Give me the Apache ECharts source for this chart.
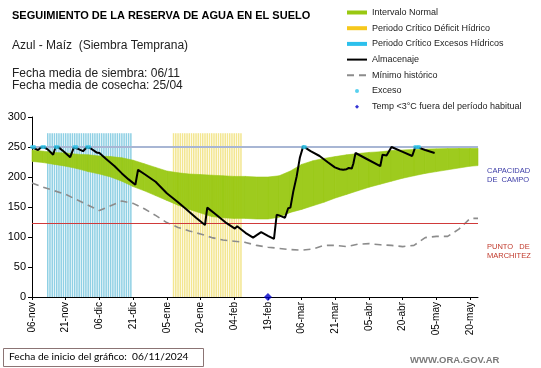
<!DOCTYPE html>
<html>
<head>
<meta charset="utf-8">
<script src="https://cdn.jsdelivr.net/npm/echarts@6/dist/echarts.min.js"></script>
<style>
html,body{margin:0;padding:0;background:#fff;}
#chart{width:541px;height:368px;}
</style>
</head>
<body>
<div id="chart"></div>
<script>
// ---- Data (x = days since 06-nov-2024) ----
var tickLabels = ['06-nov','21-nov','06-dic','21-dic','05-ene','20-ene','04-feb','19-feb','06-mar','21-mar','05-abr','20-abr','05-may','20-may'];

var bandDays = [0,5,10,15,20,25,30,35,40,45,50,55,60,65,70,75,80,85,90,95,100,105,110,115,120,125,130,135,140,145,150,155,160,165,170,175,180,185,190,195,198.5];
var bandHigh = [245,243,241,240,238,237,235,234,232,228,222,216,210,207,205,204,203,202,201,201,200,200,202,210,221,227,231,234,237,239,241,242,244,245,246,246.5,247,247.5,248,248,248];
var bandLow  = [226,224,221,218,214,209,205,200,193,184,177,169,161,153,146,140,134,132,131,131,130,130,133,141,146,152,158,165,171,177,183,188,193,198,202,206,209,212,215,218,219];

var minDays = [0,5,10,15,20,25,30,35,40,45,50,55,60,65,70,75,80,85,90,95,100,105,110,115,120,125,130,135,140,145,150,155,160,165,170,175,180,185,190,195,198.5];
var minVals = [190,183,177,171,162,153,144,152,160,156,147,136,124,116,110,105,99,95,93,91,86,83,81,79,78,80,86,86,84,88,89,87,86,84,86,99,101,101,113,131,131];

var storageDays = [0,1.5,2.7,4,5,7,9.4,10.5,12,14,17,18.6,20.5,22.7,24.5,26,28.7,30,33,36.8,40,43,46,47.2,50,55,60,65,68.8,73,77,78,82,86.6,90.3,91.3,95,98.4,100,102,105,107.7,108.9,110,112.6,114,115,116.3,117.8,119.2,120.7,124,128,131.5,134.8,137,138.5,140,141,142.3,143,144,149,155,156,157.8,160,165,169.2,170.5,172,175,179.2];
var storageVals = [249,247,245,249,250,246,237,250,249,243,233,249,247,243,250,248,241,240,230,218,206,196,187,212,205,192,173,158,146,132,120,149,137,123,114,118,107,99,103,108,102,97,137,136,132,148,149,176,201,232,251,243,235,225,216,213,212,213,215,214,222,240,230,218,237,236,250,242,235,249,249,245,240];

var excessDays = [0,1,4.5,5.5,10.5,11.5,18.8,19.8,24.5,25.5,120.7,121.5,170.5,171.5,172.3];
var excessVals = [250,250,250,250,250,250,250,250,250,250,250,250,250,250,250];

var excessPeriodDays = [7,8,9,10,11,12,13,14,15,16,17,18,19,20,21,22,23,24,25,26,27,28,29,30,31,32,33,34,35,36,37,38,39,40,41,42,43,44];
var deficitPeriodDays = [63,64,65,66,67,68,69,70,71,72,73,74,75,76,77,78,79,80,81,82,83,84,85,86,87,88,89,90,91,92,93];
var periodTop = 273;

var coldDays = [105];
var coldVals = [0];

var fieldCapacity = 250;
var wiltingPoint = 123;

function pairs(xs, ys){ return xs.map(function(x,i){ return [x, ys[i]]; }); }
function periodBars(days){ return days.map(function(d){ return [d, periodTop]; }); }

var FONT = '"Liberation Sans", Arial, sans-serif';
var GREEN = '#99c812';

function renderBand(params, api){
  var i = params.dataIndex;
  if (i >= bandDays.length - 1) return null;
  var p = [
    api.coord([bandDays[i], bandLow[i]]),
    api.coord([bandDays[i+1], bandLow[i+1]]),
    api.coord([bandDays[i+1], bandHigh[i+1]]),
    api.coord([bandDays[i], bandHigh[i]])
  ];
  return {type: 'polygon', shape: {points: p}, style: {fill: GREEN, stroke: GREEN, lineWidth: 0.6, opacity: 0.95}};
}

var chart = echarts.init(document.getElementById('chart'), null, {renderer:'canvas'});
chart.setOption({
  animation: false,
  backgroundColor: '#fff',
  textStyle: {fontFamily: FONT},
  grid: {left: 32, right: 63, top: 117, bottom: 71, containLabel: false, outerBoundsMode: 'none'},
  legend: {
    orient: 'vertical', left: 341, top: 2.5,
    itemWidth: 20, itemHeight: 4, itemGap: 5.7,
    textStyle: {fontSize: 9, color: '#222', fontFamily: FONT, lineHeight: 10},
    data: [
      {name: 'Intervalo Normal', icon: 'rect', itemStyle: {color: GREEN}},
      {name: 'Periodo Crítico Déficit Hídrico', icon: 'rect', itemStyle: {color: '#f6c81c'}},
      {name: 'Periodo Crítico Excesos Hídricos', icon: 'rect', itemStyle: {color: '#2cc0ec'}},
      {name: 'Almacenaje', itemStyle: {opacity: 0}},
      {name: 'Mínimo histórico', itemStyle: {opacity: 0}},
      {name: 'Exceso', icon: 'circle'},
      {name: 'Temp <3°C fuera del período habitual', icon: 'path://M0,-1L1,0L0,1L-1,0Z'}
    ]
  },
  xAxis: {
    type: 'value', min: 0, max: 198.5, interval: 15,
    axisLine: {lineStyle: {color: '#000', width: 1}},
    axisTick: {length: 3, lineStyle: {color: '#000'}},
    splitLine: {show: false},
    axisLabel: {
      rotate: 90, fontSize: 10, color: '#000', margin: 5, showMaxLabel: false,
      formatter: function(v){ var i = Math.round(v/15); return (Math.abs(v - i*15) < 0.01 && tickLabels[i]) ? tickLabels[i] : ''; }
    }
  },
  yAxis: {
    type: 'value', min: 0, max: 300, interval: 50,
    name: 'Milímetros', nameLocation: 'middle', nameRotate: 90, nameGap: 24,
    nameTextStyle: {fontSize: 7, color: '#000'},
    axisLine: {show: true, lineStyle: {color: '#000', width: 1}},
    axisTick: {show: true, length: 4, lineStyle: {color: '#000'}},
    splitLine: {show: false},
    axisLabel: {fontSize: 11, color: '#000', margin: 6}
  },
  series: [
    {
      name: 'Periodo Crítico Excesos Hídricos', type: 'bar', barWidth: 1.5, z: 1,
      itemStyle: {color: '#8fd0e4'}, data: periodBars(excessPeriodDays), barGap: '-100%'
    },
    {
      name: 'Periodo Crítico Déficit Hídrico', type: 'bar', barWidth: 1.5, z: 1,
      itemStyle: {color: '#f3e690'}, data: periodBars(deficitPeriodDays), barGap: '-100%'
    },
    {
      name: 'Intervalo Normal', type: 'custom', z: 2, renderItem: renderBand,
      itemStyle: {color: GREEN},
      encode: {x: 0, y: [1, 2]},
      data: bandDays.map(function(d, i){ return [d, bandLow[i], bandHigh[i]]; })
    },
    {
      name: 'refLines', type: 'line', data: [], z: 3, silent: true,
      markLine: {
        symbol: 'none', silent: true, label: {show: false}, emphasis: {disabled: true},
        data: [
          {yAxis: fieldCapacity, lineStyle: {color: '#a8b6d4', width: 2, type: 'solid', opacity: 1}},
          {yAxis: wiltingPoint, lineStyle: {color: '#d03a3a', width: 1.2, type: 'solid', opacity: 1}}
        ]
      }
    },
    {
      name: 'Mínimo histórico', type: 'line', symbol: 'none', z: 4,
      lineStyle: {color: '#8c8c8c', width: 1.6, type: [7,5]}, itemStyle: {color: '#8c8c8c'},
      data: pairs(minDays, minVals)
    },
    {
      name: 'Almacenaje', type: 'line', symbol: 'none', z: 5,
      lineStyle: {color: '#000', width: 2}, itemStyle: {color: '#000'},
      data: pairs(storageDays, storageVals)
    },
    {
      name: 'Exceso', type: 'scatter', symbol: 'circle', symbolSize: 4, z: 6,
      itemStyle: {color: '#2ec4ea'}, data: pairs(excessDays, excessVals)
    },
    {
      name: 'Temp <3°C fuera del período habitual', type: 'scatter', symbol: 'diamond', symbolSize: 8, z: 7, clip: false,
      itemStyle: {color: '#0000c8'}, data: pairs(coldDays, coldVals)
    }
  ],
  graphic: [
    {type: 'text', left: 12, top: 10, style: {text: 'SEGUIMIENTO DE LA RESERVA DE AGUA EN EL SUELO', font: 'bold 11px ' + FONT, fill: '#000'}},
    {type: 'text', left: 12, top: 40, style: {text: 'Azul - Maíz  (Siembra Temprana)', font: '12px ' + FONT, fill: '#222'}},
    {type: 'text', left: 12, top: 68, style: {text: 'Fecha media de siembra: 06/11', font: '12px ' + FONT, fill: '#222'}},
    {type: 'text', left: 12, top: 80, style: {text: 'Fecha media de cosecha: 25/04', font: '12px ' + FONT, fill: '#222'}},
    {type: 'text', left: 487, top: 166, style: {text: 'CAPACIDAD\nDE  CAMPO', font: '7.5px ' + FONT, fill: '#3b3ba6', lineHeight: 9}},
    {type: 'text', left: 487, top: 242, style: {text: 'PUNTO   DE\nMARCHITEZ', font: '7.5px ' + FONT, fill: '#c0392b', lineHeight: 9}},
    {type: 'rect', shape: {x: 3.5, y: 348.5, width: 200, height: 18}, style: {fill: 'none', stroke: '#8b7474', lineWidth: 1}},
    {type: 'text', left: 9, top: 351.5, style: {text: 'Fecha de inicio del gráfico:  06/11/2024', font: '10.2px Lato, ' + FONT, fill: '#000'}},
    {type: 'text', left: 410, top: 355, style: {text: 'WWW.ORA.GOV.AR', font: 'bold 9.5px ' + FONT, fill: '#7a7a7a'}}
  ]
});
</script>
</body>
</html>
